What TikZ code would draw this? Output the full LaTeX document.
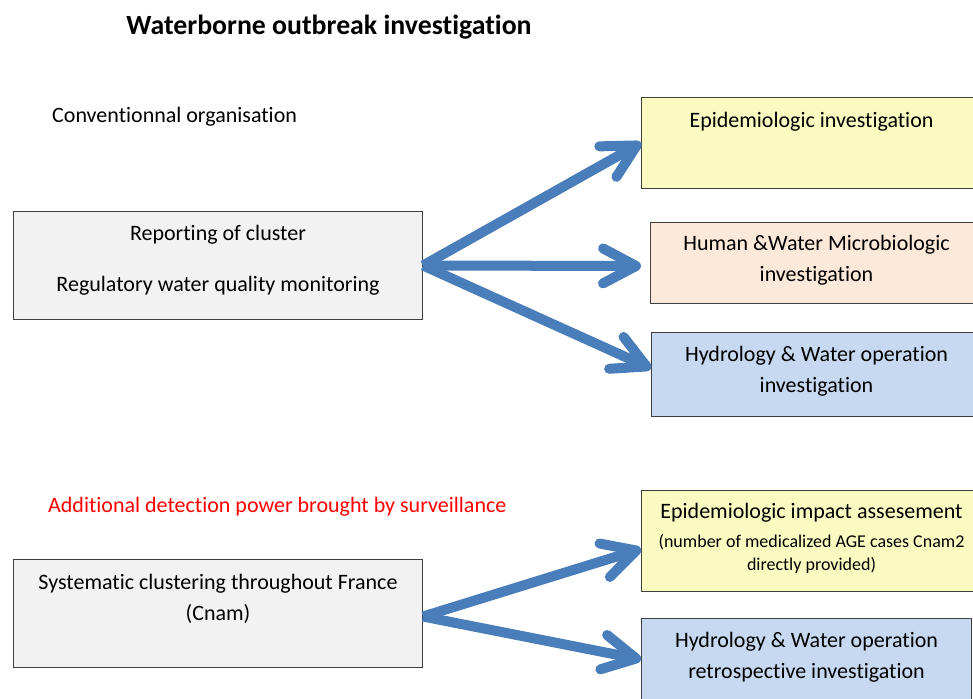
\documentclass[tikz,border=0pt]{standalone}
\usepackage{fontspec}
\setmainfont{Carlito}[Ligatures=NoCommon]
\usepackage{xcolor}
\usetikzlibrary{positioning,arrows.meta}
\definecolor{boxgray}{HTML}{F2F2F2}
\definecolor{epiyellow}{HTML}{F9FBC0}
\definecolor{micropeach}{HTML}{FDE9D9}
\definecolor{hydroblue}{HTML}{C6D9F1}
\definecolor{flowblue}{HTML}{4A7EBB}
\definecolor{edgegray}{HTML}{3F3F3F}

\tikzset{
  box/.style={draw=edgegray,line width=1pt,anchor=north west,inner sep=0pt},
  boxtext/.style={font=\fontsize{22}{30.5}\selectfont,align=center,inner sep=0pt,anchor=base},
  flow/.style={draw=flowblue,line width=10pt,-{Straight Barb[length=33pt,width=35pt,round]}}
}

\begin{document}
\begin{tikzpicture}[x=1pt,y=-1pt]
  \useasboundingbox (0,0) rectangle (973,698);
  \clip (0,0) rectangle (973,698);

  % headings
  \node[font=\fontsize{27.8}{32}\selectfont\bfseries,anchor=base,inner sep=0pt] (title) at (329,35) {Waterborne outbreak investigation};
  \node[boxtext,anchor=base west] (conv) at (52,122) {Conventionnal organisation};
  \node[boxtext,anchor=base west,text=red] (surv) at (48,512) {Additional detection power brought by surveillance};

  % conventional organisation (base = last line)
  \node[box,fill=boxgray,minimum width=409pt,minimum height=108pt] (report) at (13,211) {};
  \node[boxtext,below=80pt of report.north,anchor=base] (reporttxt) {Reporting of cluster\\[20pt]Regulatory water quality monitoring};

  \node[box,fill=epiyellow,minimum width=340pt,minimum height=91pt] (epi) at (641,97) {};
  \node[boxtext,below=30pt of epi.north,anchor=base] (epitxt) {Epidemiologic investigation};

  \node[box,fill=micropeach,minimum width=332pt,minimum height=81pt] (micro) at (650,222) {};
  \node[boxtext,below=59pt of micro.north,anchor=base] (microtxt) {Human \&Water Microbiologic\\investigation};

  \node[box,fill=hydroblue,minimum width=330pt,minimum height=84pt] (hydro) at (651,332) {};
  \node[boxtext,below=60pt of hydro.north,anchor=base] (hydrotxt) {Hydrology \& Water operation\\investigation};

  % surveillance
  \node[box,fill=boxgray,minimum width=409pt,minimum height=108pt] (clust) at (13,559) {};
  \node[boxtext,below=61pt of clust.north,anchor=base] (clusttxt) {Systematic clustering throughout France\\(Cnam)};

  \node[box,fill=epiyellow,minimum width=340pt,minimum height=101pt] (impact) at (641,490) {};
  \node[boxtext,below=80pt of impact.north,anchor=base] (impacttxt) {Epidemiologic impact assesement\\[-1.5pt]{\fontsize{18}{23}\selectfont (number of medicalized AGE cases Cnam2}\\[-7.5pt]{\fontsize{18}{23}\selectfont directly provided)}};

  \node[box,fill=hydroblue,minimum width=330pt,minimum height=100pt] (retro) at (641,618) {};
  \node[boxtext,below=60pt of retro.north,anchor=base] (retrotxt) {Hydrology \& Water operation\\retrospective investigation};

  % arrows
  \draw[flow] (report.east) -- (epi.west);
  \draw[flow] (report.east) -- ([xshift=-9pt,yshift=-3pt]micro.west);
  \draw[flow] (report.east) -- ([yshift=6pt]hydro.west);
  \draw[flow] ([yshift=-3pt]clust.east) -- ([yshift=-8pt]impact.west);
  \draw[flow] ([yshift=-3pt]clust.east) -- ([yshift=9pt]retro.west);
\end{tikzpicture}
\end{document}
